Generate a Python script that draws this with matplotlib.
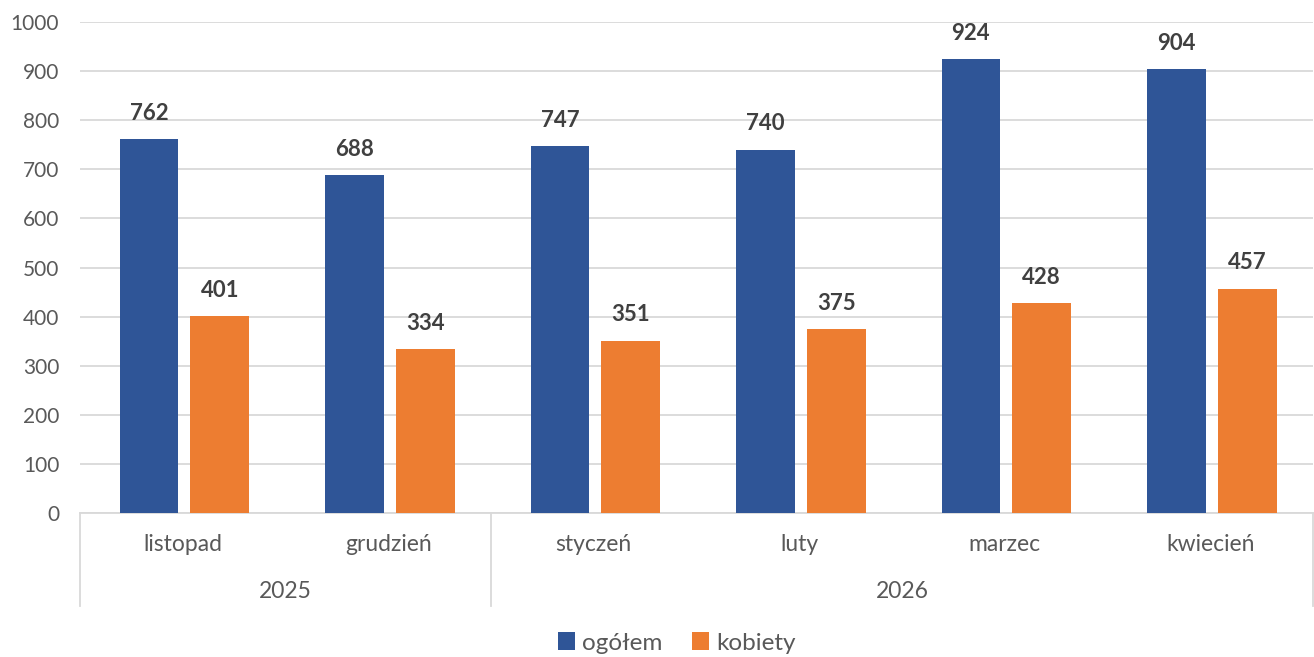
import matplotlib.pyplot as plt
import numpy as np

plt.rcParams['font.family'] = ['Lato', 'DejaVu Sans']

# dane
months = ['listopad', 'grudzień', 'styczeń', 'luty', 'marzec', 'kwiecień']
years = ['2025', '2026']
year_spans = [(0, 1), (2, 5)]
ogolem = [762, 688, 747, 740, 924, 904]
kobiety = [401, 334, 351, 375, 428, 457]

blue = '#2F5597'
orange = '#ED7D31'
grid_c = '#D9D9D9'
txt_c = '#595959'

fig = plt.figure(figsize=(13.14, 6.57), dpi=100)
ax = fig.add_axes([80 / 1314, 1 - 513 / 657, 1233 / 1314, 491 / 657])

x = np.arange(len(months))
w = 0.285
b1 = ax.bar(x - 0.165, ogolem, w, color=blue, label='ogółem', zorder=3)
b2 = ax.bar(x + 0.18, kobiety, w, color=orange, label='kobiety', zorder=3)

for bars in (b1, b2):
    for r in bars:
        ax.annotate(f'{int(r.get_height())}', (r.get_x() + r.get_width() / 2, r.get_height()),
                    xytext=(0, 11), textcoords='offset points', ha='center', va='bottom',
                    fontsize=16, fontweight='bold', color='#404040')

ax.set_xlim(-0.5, len(months) - 0.5)
ax.set_ylim(0, 1000)
ax.set_yticks(range(0, 1001, 100))
ax.tick_params(axis='y', length=0, labelsize=15, labelcolor=txt_c, pad=15)
ax.set_xticks([])
ax.grid(axis='y', color=grid_c, linewidth=1.3, zorder=0)
for s in ['top', 'right', 'left']:
    ax.spines[s].set_visible(False)
ax.spines['bottom'].set_color(grid_c)
ax.spines['bottom'].set_linewidth(1.3)

# etykiety kategorii
tr = ax.get_xaxis_transform()
for i, m in enumerate(months):
    ax.text(i, -0.065, m, transform=tr, ha='center', va='center', fontsize=16.5, color=txt_c)
for yr, (a, b) in zip(years, year_spans):
    ax.text((a + b) / 2, -0.159, yr, transform=tr, ha='center', va='center', fontsize=16.5, color=txt_c)
for sep in [-0.5, 1.5, 5.5]:
    ax.plot([sep, sep], [0, -0.189], transform=tr, color=grid_c, linewidth=1.3, clip_on=False)

fig.legend(loc='center', bbox_to_anchor=(0.515, 1 - 643 / 657), ncol=2, frameon=False,
           fontsize=17.5, handlelength=0.7, handleheight=0.7, handletextpad=0.3,
           columnspacing=1.2, labelcolor=txt_c)

fig.savefig('out.png', dpi=100)
